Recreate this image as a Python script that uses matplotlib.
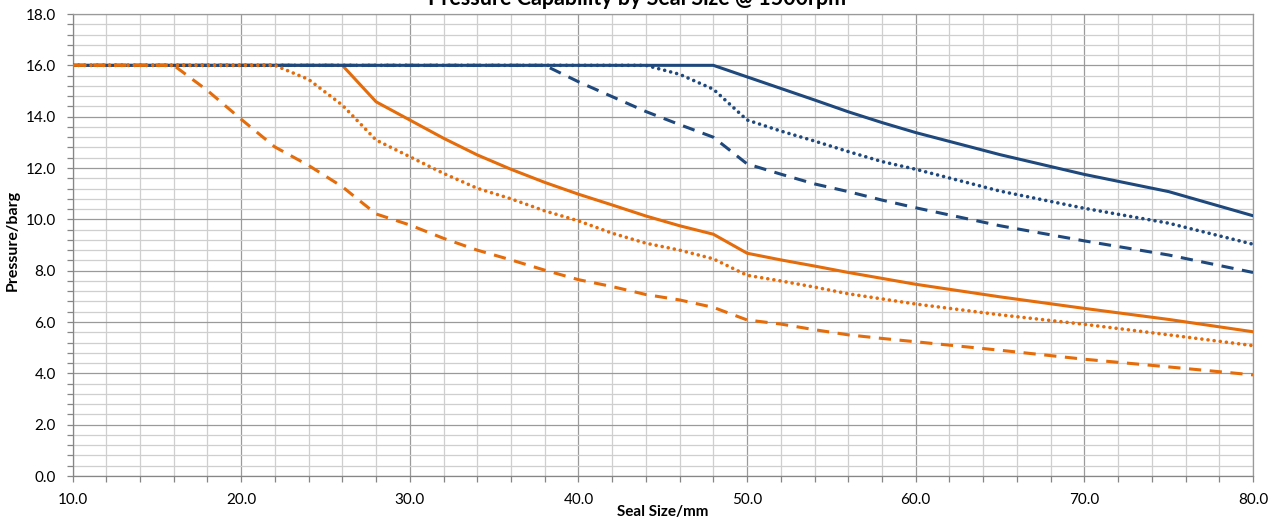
import matplotlib
matplotlib.use("Agg")
import matplotlib.pyplot as plt
from matplotlib.ticker import MultipleLocator, FormatStrFormatter

plt.rcParams['font.family'] = ['Lato', 'DejaVu Sans']

# seal size (mm)
seal_size = [10, 12, 14, 16, 18, 20, 22, 24, 26, 28, 30, 32, 34, 36, 38, 40,
             42, 44, 46, 48, 50, 52, 54, 56, 58, 60, 65, 70, 75, 80]

# pressure (barg)
blue_solid = [16.0] * 20 + [15.55, 15.1, 14.65, 14.19, 13.77, 13.38,
                            12.52, 11.75, 11.08, 10.14]
blue_dotted = [16.0] * 18 + [15.65, 15.07, 13.87, 13.44, 13.05, 12.64, 12.25, 11.95,
                             11.1, 10.43, 9.85, 9.03]
blue_dashed = [16.0] * 15 + [15.36, 14.78, 14.2, 13.69, 13.2, 12.16, 11.76, 11.38,
                             11.08, 10.75, 10.45, 9.75, 9.16, 8.61, 7.93]
orange_solid = [16.0] * 9 + [14.58, 13.87, 13.16, 12.51, 11.95, 11.44, 10.98, 10.56,
                             10.13, 9.75, 9.42, 8.68, 8.42, 8.18, 7.93, 7.7, 7.47,
                             6.98, 6.53, 6.1, 5.62]
orange_dotted = [16.0] * 7 + [15.45, 14.45, 13.09, 12.44, 11.79, 11.21, 10.8, 10.33,
                              9.94, 9.46, 9.07, 8.8, 8.46, 7.82, 7.6, 7.36, 7.1, 6.9,
                              6.7, 6.28, 5.91, 5.5, 5.08]
orange_dashed = [16.0] * 4 + [15.02, 13.9, 12.82, 12.1, 11.27, 10.21, 9.78, 9.26, 8.8,
                              8.42, 8.02, 7.65, 7.38, 7.07, 6.86, 6.57, 6.08, 5.92,
                              5.7, 5.5, 5.36, 5.23, 4.9, 4.55, 4.25, 3.94]

BLUE = '#1F497D'
ORANGE = '#E46C0A'
lw = 2.2
dot_lw = 2.6
dot = (0, (0.01, 1.7))
dash = (0, (4, 2.8))

fig = plt.figure(figsize=(12.77, 5.21), dpi=100)
ax = fig.add_axes([72.5 / 1277, 1 - 476 / 521, (1253 - 72.5) / 1277, (476 - 14) / 521])

ax.plot(seal_size, orange_solid, color=ORANGE, lw=lw, zorder=3)
ax.plot(seal_size, blue_solid, color=BLUE, lw=lw, zorder=4)
ax.plot(seal_size, blue_dotted, color=BLUE, lw=dot_lw, linestyle=dot,
        dash_capstyle='round', zorder=5)
ax.plot(seal_size, blue_dashed, color=BLUE, lw=lw, linestyle=dash, zorder=6)
ax.plot(seal_size, orange_dotted, color=ORANGE, lw=dot_lw, linestyle=dot,
        dash_capstyle='round', zorder=7)
ax.plot(seal_size, orange_dashed, color=ORANGE, lw=lw, linestyle=dash, zorder=8)

ax.set_xlim(10, 80)
ax.set_ylim(0, 18)
ax.xaxis.set_major_locator(MultipleLocator(10))
ax.xaxis.set_minor_locator(MultipleLocator(2))
ax.yaxis.set_major_locator(MultipleLocator(2))
ax.yaxis.set_minor_locator(MultipleLocator(0.4))
ax.xaxis.set_major_formatter(FormatStrFormatter('%.1f'))
ax.yaxis.set_major_formatter(FormatStrFormatter('%.1f'))

ax.grid(which='major', color='#9a9a9a', lw=0.9)
ax.grid(which='minor', color='#cfcfcf', lw=0.9)
ax.set_axisbelow(True)

for s in ax.spines.values():
    s.set_color('#9a9a9a')
    s.set_linewidth(0.9)
ax.spines['left'].set_color('#868686')
ax.spines['bottom'].set_color('#868686')

ax.tick_params(which='both', direction='out', length=4, width=0.9, color='#868686',
               labelsize=11, labelcolor='black')
ax.tick_params(axis='x', which='both', pad=8)
ax.tick_params(axis='y', which='both', pad=8)
ax.tick_params(which='both', top=False, right=False)

fig.text(662.7 / 1277, 1 - 512 / 521, 'Seal Size/mm', ha='center', va='center',
         fontsize=11, fontweight='bold')
fig.text(12.5 / 1277, 1 - 240 / 521, 'Pressure/barg', ha='center', va='center',
         rotation=90, fontsize=11.5, fontweight='bold')
# title sits partly above the top edge, as in the original
fig.text(637 / 1277, 1 - 5 / 521, 'Pressure Capability by Seal Size @ 1500rpm',
         ha='center', va='baseline', fontsize=15.5, fontweight='bold')

fig.savefig('out.png', dpi=100)
